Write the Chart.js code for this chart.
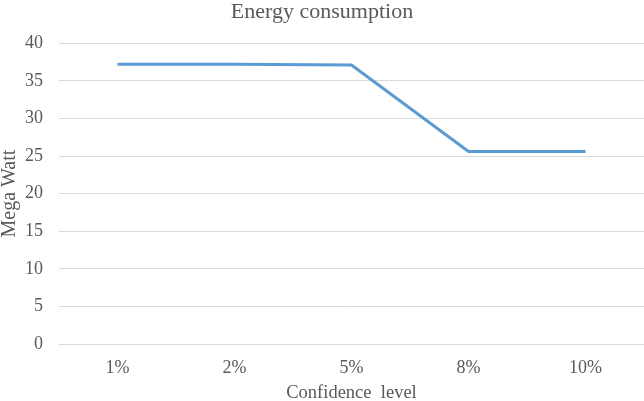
<!DOCTYPE html>
<html>
<head>
<meta charset="utf-8">
<script src="https://cdn.jsdelivr.net/npm/chart.js@4"></script>
<style>
  body { margin: 0; background: #fff; }
  #wrap { width: 644px; height: 401px; }
</style>
</head>
<body>
<div id="wrap"><canvas id="myChart"></canvas></div>
<script>
// chart data
const levels = ['1%', '2%', '5%', '8%', '10%']
const megaWatt = [37.2, 37.2, 37.1, 25.6, 25.6]
const yTicks = [0, 5, 10, 15, 20, 25, 30, 35, 40]

const grey = '#595959'
const serif = '"Liberation Serif", "Times New Roman", serif'

const ctx = document.getElementById('myChart').getContext('2d')
const myChart = new Chart(ctx, {
    type: 'line',
    data: {
        labels: levels,
        datasets: [{
            label: 'Energy consumption',
            data: megaWatt,
            borderColor: '#5b9bd5',
            borderWidth: 3,
            pointRadius: 0,
            fill: false,
            tension: 0
        }]
    },
    options: {
        responsive: true,
        maintainAspectRatio: false,
        animation: false,
        layout: { padding: 0 },
        plugins: {
            legend: { display: false },
            tooltip: { enabled: false },
            title: {
                display: true,
                text: 'Energy consumption',
                color: grey,
                font: { family: serif, size: 22, weight: 'normal', lineHeight: 1.1 },
                padding: { top: 0, bottom: 19 }
            }
        },
        scales: {
            x: {
                offset: true,
                grid: { display: false, drawTicks: false },
                border: { display: false },
                ticks: { color: grey, font: { family: serif, size: 18 }, padding: 13 },
                title: {
                    display: true,
                    text: 'Confidence  level',
                    color: grey,
                    font: { family: serif, size: 18.5, lineHeight: 0.8 },
                    padding: { top: 4, bottom: 0 }
                },
                afterFit: s => { s.height = 57 }
            },
            y: {
                min: 0,
                max: 40,
                afterBuildTicks: s => { s.ticks = yTicks.map(v => ({ value: v })) },
                grid: { color: '#d9d9d9', lineWidth: 1, drawTicks: false },
                border: { display: false },
                ticks: { color: grey, font: { family: serif, size: 18 }, padding: 16 },
                title: {
                    display: true,
                    text: 'Mega Watt',
                    color: grey,
                    font: { family: serif, size: 20, lineHeight: 1.0 },
                    padding: { top: 0, bottom: 0 }
                },
                afterFit: s => { s.width = 59 }
            }
        }
    }
})
</script>
</body>
</html>
